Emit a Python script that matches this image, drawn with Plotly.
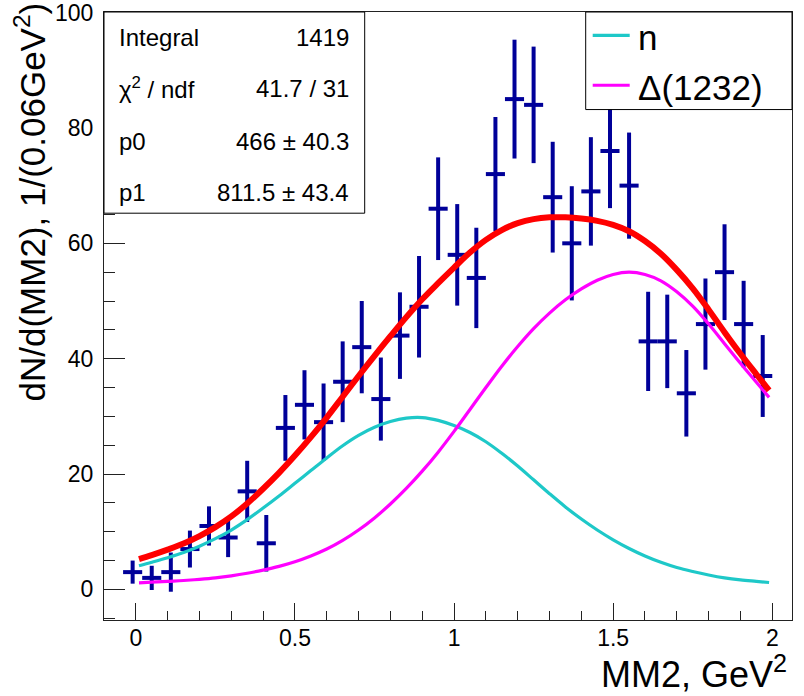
import plotly.graph_objects as go

# ---- data ----
bin_centers = [-0.01, 0.05, 0.11, 0.17, 0.23, 0.29, 0.35, 0.41, 0.47, 0.53, 0.59, 0.65,
               0.71, 0.77, 0.83, 0.89, 0.95, 1.01, 1.07, 1.13, 1.19, 1.25, 1.31, 1.37,
               1.43, 1.49, 1.55, 1.61, 1.67, 1.73, 1.79, 1.85, 1.91, 1.97]
counts = [3, 2, 3, 7, 11, 9, 17, 8, 28, 32, 29, 36, 42, 33, 44, 49, 66, 58, 54, 72, 85, 84,
          68, 60, 69, 76, 70, 43, 43, 34, 46, 55, 46, 37]
count_errors = [2.0, 2.1, 3.4, 3.2, 3.4, 3.4, 5.3, 4.9, 5.7, 6.0, 6.7, 7.0, 8.0, 7.2, 7.5,
                8.8, 8.9, 8.8, 8.7, 9.9, 10.3, 10.1, 9.6, 9.9, 9.4, 9.9, 9.2, 8.6, 8.1, 7.5,
                7.9, 8.3, 7.5, 7.1]
bin_half_width = 0.03

curve_x = [0.01, 0.05, 0.1, 0.15, 0.2, 0.25, 0.3, 0.35, 0.4, 0.45, 0.5, 0.55, 0.6, 0.65,
           0.7, 0.75, 0.8, 0.85, 0.9, 0.95, 1.0, 1.05, 1.1, 1.15, 1.2, 1.25, 1.3, 1.35,
           1.4, 1.45, 1.5, 1.55, 1.6, 1.65, 1.7, 1.75, 1.8, 1.85, 1.9, 1.95, 1.99]
n_curve = [4.1, 4.7, 5.5, 6.4, 7.5, 8.8, 10.3, 12.1, 14.1, 16.2, 18.4, 20.6, 22.8, 24.9,
           26.7, 28.1, 29.1, 29.7, 29.8, 29.3, 28.4, 27.2, 25.6, 23.6, 21.4, 19.0, 16.6,
           14.3, 12.2, 10.3, 8.6, 7.1, 5.8, 4.7, 3.8, 3.1, 2.5, 2.0, 1.65, 1.4, 1.2]
delta_curve = [1.15, 1.25, 1.4, 1.55, 1.75, 2.0, 2.35, 2.8, 3.35, 4.0, 4.8, 5.8, 7.0, 8.5,
               10.3, 12.4, 14.8, 17.5, 20.5, 23.8, 27.4, 31.2, 35.0, 38.7, 42.1, 45.2,
               47.9, 50.2, 52.1, 53.6, 54.6, 55.0, 54.6, 53.5, 51.6, 49.1, 46.0, 42.6,
               39.2, 35.9, 33.3]
total_curve = [5.25, 5.95, 6.9, 7.95, 9.25, 10.8, 12.65, 14.9, 17.45, 20.2, 23.2, 26.4,
               29.8, 33.4, 37.0, 40.5, 43.9, 47.2, 50.3, 53.1, 55.8, 58.4, 60.6, 62.3,
               63.5, 64.2, 64.5, 64.5, 64.3, 63.9, 63.2, 62.1, 60.4, 58.2, 55.4, 52.2,
               48.5, 44.6, 40.85, 37.3, 34.5]

stats_rows = [("Integral", "1419"),
              ("\u03c7<sup>2</sup> / ndf", "41.7 / 31"),
              ("p0", "466 \u00b1 40.3"),
              ("p1", "811.5 \u00b1 43.4")]
legend_entries = [("n", "#1ec8c8"), ("\u0394(1232)", "#ff00ff")]

# ---- layout geometry (pixels) ----
W, H = 804, 696
L, R, T, B = 104.3, 792.3, 11.7, 620.0
FONT = "Liberation Sans, Arial, Helvetica, sans-serif"


def px(xp):
    return (xp - L) / (R - L)


def py(yp):
    return (B - yp) / (B - T)


fig = go.Figure()

fig.add_trace(go.Scatter(
    x=bin_centers, y=counts, mode="markers",
    marker=dict(size=1, color="#000099"),
    error_y=dict(type="data", array=count_errors, visible=True, width=0,
                 thickness=4, color="#000099"),
    error_x=dict(type="constant", value=bin_half_width, visible=True, width=0,
                 thickness=4, color="#000099"),
    showlegend=False, hoverinfo="x+y"))

fig.add_trace(go.Scatter(x=curve_x, y=n_curve, mode="lines", line_shape="spline",
                         line=dict(color="#1ec8c8", width=3.2), showlegend=False))
fig.add_trace(go.Scatter(x=curve_x, y=delta_curve, mode="lines", line_shape="spline",
                         line=dict(color="#ff00ff", width=3.2), showlegend=False))
fig.add_trace(go.Scatter(x=curve_x, y=total_curve, mode="lines", line_shape="spline",
                         line=dict(color="#ff0000", width=6), showlegend=False))

fig.update_layout(
    width=W, height=H,
    margin=dict(l=L, r=W - R, t=T, b=H - B, pad=0, autoexpand=False),
    paper_bgcolor="white", plot_bgcolor="white",
    font=dict(family=FONT, color="black"),
    xaxis=dict(range=[-0.1, 2.062], showgrid=False, zeroline=False, automargin=False,
               showline=True, mirror=True, linecolor="#222", linewidth=1,
               ticks="inside", ticklen=17, tickwidth=1, tickcolor="#222",
               tick0=0, dtick=0.5, tickfont=dict(size=23, family=FONT),
               ticklabelstandoff=-3, ticklabeloverflow="allow",
               minor=dict(ticks="inside", ticklen=9, dtick=0.1, tick0=0,
                          tickcolor="#222", tickwidth=1, showgrid=False)),
    yaxis=dict(range=[-5.3, 100.1], showgrid=False, zeroline=False, automargin=False,
               showline=True, mirror=True, linecolor="#222", linewidth=1,
               ticks="inside", ticklen=21, tickwidth=1, tickcolor="#222",
               tick0=0, dtick=20, tickfont=dict(size=23, family=FONT),
               ticklabelstandoff=5, ticklabeloverflow="allow",
               minor=dict(ticks="inside", ticklen=11, dtick=5, tick0=0,
                          tickcolor="#222", tickwidth=1, showgrid=False)),
)

shapes = []
annotations = []

# stats box
shapes.append(dict(type="rect", xref="paper", yref="paper",
                   x0=px(104.3), x1=px(365), y0=py(213), y1=py(11.7),
                   line=dict(color="black", width=1), fillcolor="white", layer="above"))
row_y = [37, 88, 141, 192]
for (lab, val), yy in zip(stats_rows, row_y):
    annotations.append(dict(xref="paper", yref="paper", x=px(117), y=py(yy),
                            xanchor="left", yanchor="middle", text=lab, showarrow=False,
                            font=dict(size=24, family=FONT, color="black")))
    annotations.append(dict(xref="paper", yref="paper", x=px(351), y=py(yy),
                            xanchor="right", yanchor="middle", text=val, showarrow=False,
                            font=dict(size=24, family=FONT, color="black")))

# legend box
shapes.append(dict(type="rect", xref="paper", yref="paper",
                   x0=px(586), x1=px(792.3), y0=py(109.3), y1=py(11.7),
                   line=dict(color="black", width=1), fillcolor="white", layer="above"))
leg_y = [35, 85]
for (lab, col), yy in zip(legend_entries, leg_y):
    shapes.append(dict(type="line", xref="paper", yref="paper",
                       x0=px(593), x1=px(630), y0=py(yy), y1=py(yy),
                       line=dict(color=col, width=3.2), layer="above"))
    annotations.append(dict(xref="paper", yref="paper", x=px(636), y=py(yy + 2),
                            xanchor="left", yanchor="middle", text=lab, showarrow=False,
                            font=dict(size=35, family=FONT, color="black")))

# axis titles
annotations.append(dict(xref="paper", yref="paper", x=px(789), y=py(672),
                        xanchor="right", yanchor="middle",
                        text="MM2, GeV<sup>2</sup>", showarrow=False,
                        font=dict(size=36, family=FONT, color="black")))
annotations.append(dict(xref="paper", yref="paper", x=px(30), y=py(0),
                        xanchor="center", yanchor="top", textangle=-90,
                        text="dN/d(MM2), 1/(0.06GeV<sup>2</sup>)", showarrow=False,
                        font=dict(size=35, family=FONT, color="black")))

fig.update_layout(shapes=shapes, annotations=annotations)

fig.write_html("out.html", config={"displayModeBar": False},
               post_script="document.body.style.margin='0px';")
